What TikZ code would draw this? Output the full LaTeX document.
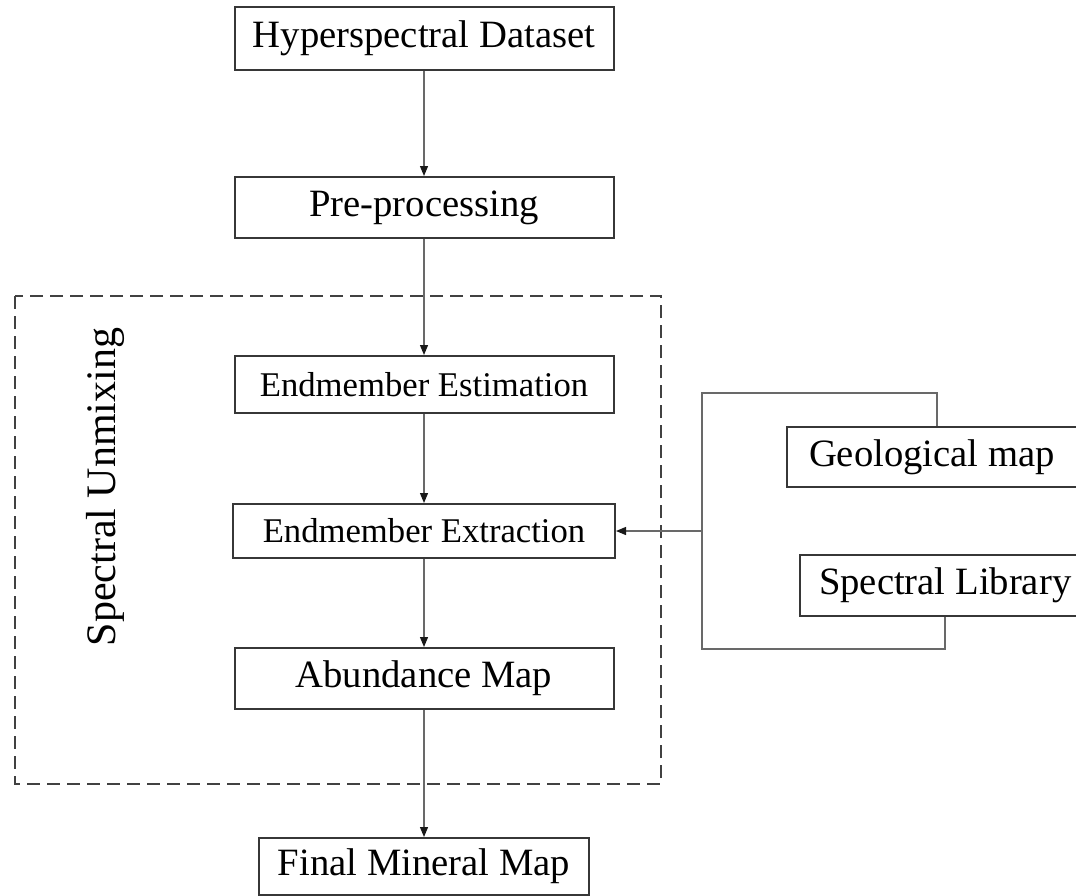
\documentclass[tikz,border=0pt]{standalone}
\usepackage{fontspec}
\setmainfont{Liberation Serif}
\usetikzlibrary{arrows.meta}

\tikzset{every picture/.style={line width=0.75pt}}
\tikzset{
  stagebox/.style={draw={rgb, 255:red, 55; green, 55; blue, 55 }, line width=1.5pt, inner sep=0pt, align=center},
  sourcebox/.style={draw={rgb, 255:red, 55; green, 55; blue, 55 }, line width=1.5pt, inner ysep=0pt, align=flush left, anchor=west},
  link/.style={draw={rgb, 255:red, 105; green, 105; blue, 105 }, line width=0.9pt},
  tip/.style={-{Triangle[length=7.5pt,width=6pt,color={rgb, 255:red, 25; green, 25; blue, 25 }]}},
  bigtxt/.style={font=\fontsize{29}{34}\selectfont},
  midtxt/.style={font=\fontsize{26}{31}\selectfont}
}

\begin{document}
\begin{tikzpicture}[x=0.75pt,y=0.75pt,yscale=-1,xscale=1]
        %set diagram left start at 0, and has height of 896
        \useasboundingbox (0,0) rectangle (1076,896);

        %Shape: Rectangle [id:frame]
        \draw [color={rgb, 255:red, 65; green, 65; blue, 65 }, line width=1.5pt, dash pattern=on 10pt off 5pt]  (15,296) rectangle (661,784);

        % Text Node
        \node (hyper) [stagebox, bigtxt, minimum width=284.25pt, minimum height=47.25pt] at (424,38.5) {Hyperspectral Dataset};
        % Text Node
        \node (prep) [stagebox, bigtxt, minimum width=284.25pt, minimum height=45.75pt] at (424,207.5) {Pre-processing};
        % Text Node
        \node (est) [stagebox, midtxt, minimum width=284.25pt, minimum height=42.75pt] at (424,384.5) {Endmember Estimation};
        % Text Node
        \node (ext) [stagebox, midtxt, minimum width=286.5pt, minimum height=40.5pt] at (424,531) {Endmember Extraction};
        % Text Node
        \node (abund) [stagebox, bigtxt, minimum width=284.25pt, minimum height=45.75pt] at (424,678.5) {Abundance Map};
        % Text Node
        \node (final) [stagebox, bigtxt, minimum width=247.5pt, minimum height=42.75pt] at (424,866.5) {Final Mineral Map};
        % Text Node
        \node (unmix) [rotate=90, font=\fontsize{31.5}{36}\selectfont] at (105,487) {Spectral Unmixing};

        % Text Node
        \node (geo) [sourcebox, bigtxt, inner xsep=16.5pt, text width=202.5pt, minimum height=45pt] at (786,457) {Geological map};
        % Text Node
        \node (lib) [sourcebox, bigtxt, inner xsep=14.25pt, text width=202.5pt, minimum height=45.75pt] at (799,585.5) {Spectral Library};

        %Straight Lines
        \draw [link, tip] (hyper) -- (prep);
        \draw [link, tip] (prep) -- (est);
        \draw [link, tip] (est) -- (ext);
        \draw [link, tip] (ext) -- (abund);
        \draw [link, tip] (abund) -- (final);

        %Bus Lines
        \coordinate (geox) at (937,0);
        \coordinate (libx) at (945,0);
        \coordinate (topbend) at (702,393);
        \coordinate (botbend) at (702,649);
        \coordinate (bus) at (702,531);
        \draw [link] (geo.north -| geox) |- (topbend) -- (botbend) -| (lib.south -| libx);
        \draw [link, tip] (bus) -- (ext.east);

    \end{tikzpicture}
\end{document}
